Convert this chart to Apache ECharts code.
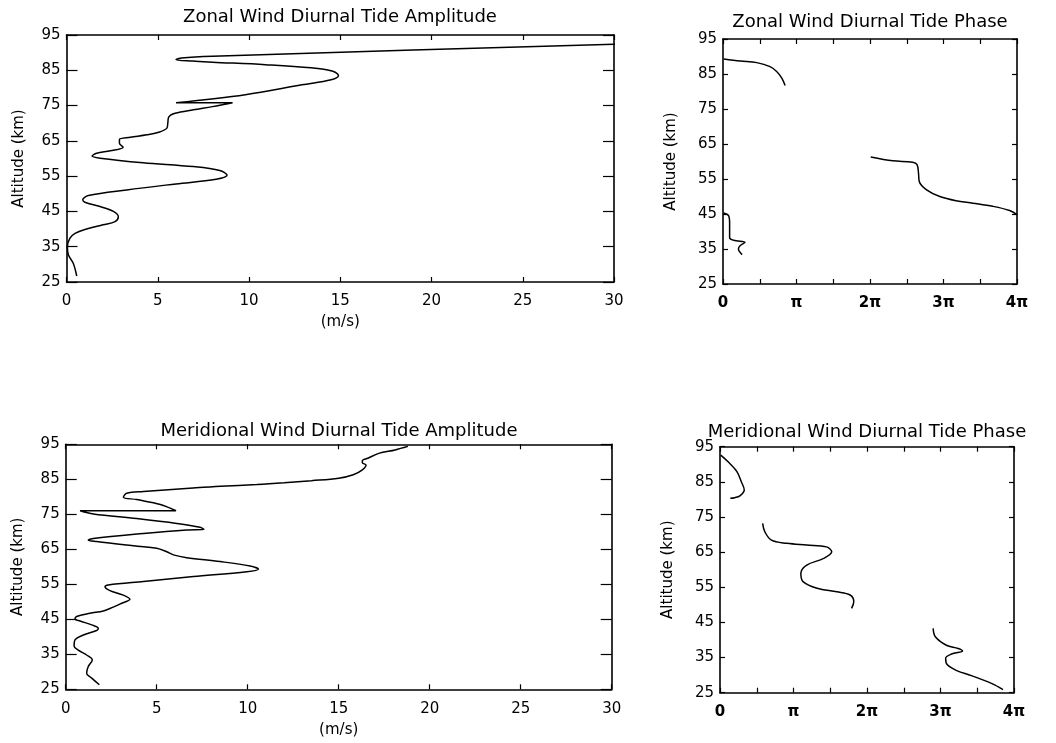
<!DOCTYPE html>
<html><head><meta charset="utf-8">
<script src="https://cdn.jsdelivr.net/npm/echarts@6/dist/echarts.min.js"></script>
<style>html,body{margin:0;padding:0;background:#fff}#c{width:1056px;height:743px}</style>
</head><body><div id="c"></div>
<script>
// ---- Data ----
var altTicks = [25, 35, 45, 55, 65, 75, 85, 95];
var ampTicks = [0, 5, 10, 15, 20, 25, 30];
var phaseTicks = [0, 0.5, 1, 1.5, 2, 2.5, 3, 3.5, 4];   // units of pi
var phaseLabels = [0, 1, 2, 3, 4];                        // units of pi

// Zonal wind diurnal tide amplitude (m/s) vs altitude (km)
var zonalAmpAlt = [26.7, 30.3, 32.7, 35.0, 37.4, 38.8, 40.0, 41.2, 42.1, 43.5, 45.0, 46.4, 47.6, 48.3, 49.5, 51.1, 52.8, 54.1, 55.3, 56.6, 57.7, 58.8, 60.1, 60.7, 61.5, 62.2, 63.2, 64.3, 65.4, 66.0, 66.7, 67.5, 68.6, 70.0, 71.7, 72.8, 73.8, 74.7, 75.8, 75.8, 78.1, 80.9, 82.3, 83.5, 84.7, 85.7, 86.6, 87.3, 87.6, 88.0, 88.5, 89.0, 92.4, 93.0];
var zonalAmpVal = [0.56, 0.37, 0.10, 0.05, 0.19, 0.47, 1.1, 2.0, 2.66, 2.84, 2.57, 1.84, 1.01, 0.89, 1.2, 3.3, 6.0, 8.2, 8.8, 8.4, 6.95, 4.2, 1.84, 1.4, 1.65, 2.4, 3.1, 2.9, 2.9, 3.5, 4.4, 5.1, 5.5, 5.55, 5.6, 5.95, 6.95, 8.0, 9.1, 6.0, 9.8, 12.9, 14.5, 14.9, 14.6, 13.4, 10.9, 8.0, 6.9, 6.0, 6.3, 8.0, 30, 34];

// Zonal wind diurnal tide phase (units of pi), three segments
var zonalPhaseAltA = [89.3, 88.7, 88.25, 87.1, 85.7, 83.8, 81.7];
var zonalPhaseValA = [0.01, 0.235, 0.46, 0.64, 0.73, 0.80, 0.845];
var zonalPhaseAltB = [61.3, 60.2, 59.8, 59.1, 56.7, 54.3, 51.9, 50.0, 48.8, 48.1, 47.2, 46.0, 44.8];
var zonalPhaseValB = [2.01, 2.31, 2.58, 2.64, 2.66, 2.67, 2.77, 2.95, 3.17, 3.40, 3.67, 3.90, 4.0];
var zonalPhaseAltC = [45.3, 44.5, 42.4, 38.2, 37.5, 36.9, 36.0, 35.0, 33.4];
var zonalPhaseValC = [0.01, 0.077, 0.09, 0.09, 0.145, 0.30, 0.235, 0.21, 0.26];

// Meridional wind diurnal tide amplitude (m/s)
var meridAmpAlt = [26.3, 28.2, 29.6, 31.5, 33.4, 34.8, 36.2, 37.4, 39.1, 40.5, 41.8, 42.4, 43.4, 44.5, 45.1, 45.8, 46.7, 47.4, 48.1, 49.6, 50.7, 51.9, 53.2, 54.3, 54.8, 55.8, 57.2, 58.6, 59.3, 60.2, 61.5, 62.6, 63.4, 64.3, 65.3, 66.2, 67.2, 67.6, 68.1, 69.5, 70.5, 70.7, 71.3, 72.4, 73.8, 75.1, 76.0, 76.0, 77.8, 79.2, 79.9, 81.0, 81.5, 82.5, 83.0, 83.5, 84.0, 84.6, 85.3, 86.3, 87.7, 89.1, 89.7, 90.3, 91.0, 92.4, 93.4, 94.4];
var meridAmpVal = [1.85, 1.43, 1.15, 1.24, 1.46, 1.15, 0.69, 0.46, 0.51, 0.97, 1.70, 1.79, 1.43, 0.79, 0.51, 0.60, 1.33, 2.07, 2.43, 3.08, 3.53, 3.17, 2.43, 2.16, 2.34, 4.27, 7.02, 9.95, 10.59, 10.13, 8.48, 6.65, 5.92, 5.55, 5.0, 3.35, 1.70, 1.24, 1.52, 4.27, 6.65, 7.6, 7.38, 6.1, 3.9, 1.52, 0.79, 6.06, 5.2, 3.9, 3.17, 3.35, 4.27, 7.0, 8.5, 10.5, 12.0, 13.5, 15.0, 15.8, 16.3, 16.5, 16.3, 16.3, 16.6, 17.2, 18.1, 18.8];

// Meridional wind diurnal tide phase (units of pi), three segments
var meridPhaseAltA = [92.6, 90.7, 87.9, 85.0, 82.7, 81.0, 80.5, 80.3];
var meridPhaseValA = [0.01, 0.11, 0.23, 0.29, 0.33, 0.27, 0.20, 0.14];
var meridPhaseAltB = [73.2, 70.8, 68.4, 67.5, 67.0, 66.5, 65.1, 63.2, 61.3, 58.9, 56.6, 54.7, 53.7, 52.8, 50.9, 49.0];
var meridPhaseValB = [0.58, 0.61, 0.70, 0.91, 1.18, 1.45, 1.52, 1.41, 1.18, 1.10, 1.13, 1.32, 1.59, 1.77, 1.82, 1.79];
var meridPhaseAltC = [43.3, 40.9, 38.5, 37.6, 36.9, 36.0, 34.8, 33.0, 31.3, 29.8, 27.6, 25.9];
var meridPhaseValC = [2.90, 2.93, 3.08, 3.24, 3.30, 3.15, 3.07, 3.09, 3.22, 3.43, 3.70, 3.85];

var titles = ['Zonal Wind Diurnal Tide Amplitude', 'Zonal Wind Diurnal Tide Phase',
              'Meridional Wind Diurnal Tide Amplitude', 'Meridional Wind Diurnal Tide Phase'];

// ---- Build chart ----
function pairs(xs, ys) { return xs.map(function (x, i) { return [x, ys[i]]; }); }
var FONT = 'DejaVu Sans';
var grids = [
  {left: 66.5, top: 35, width: 547.5, height: 247},
  {left: 723, top: 39, width: 294, height: 245},
  {left: 65.7, top: 444.3, width: 546, height: 245},
  {left: 720, top: 446.7, width: 294, height: 246}
];
var isPhase = [false, true, false, true];
var axisLine = {show: true, onZero: false, lineStyle: {color: '#000', width: 1.6}};
var xAxes = [], yAxes = [];
for (var pass = 0; pass < 2; pass++) {
  for (var g = 0; g < 4; g++) {
    var ph = isPhase[g];
    var xa = {
      type: 'value', gridIndex: g, position: pass === 0 ? 'bottom' : 'top',
      min: 0, max: ph ? 4 : 30, interval: ph ? 0.5 : 5,
      axisLine: axisLine, splitLine: {show: false},
      axisTick: {show: true, inside: true, length: 5, lineStyle: {color: '#000', width: 1.2},
                 customValues: ph ? phaseTicks : ampTicks},
      axisLabel: {show: pass === 0, color: '#000', fontSize: 15, fontFamily: FONT, margin: 12,
                  fontWeight: ph ? 'bold' : 'normal',
                  customValues: ph ? phaseLabels : ampTicks,
                  formatter: ph ? function (v) { v = Math.round(v); return v === 0 ? '0' : (v === 1 ? 'π' : v + 'π'); } : null}
    };
    if (pass === 0 && !ph) {
      xa.name = '(m/s)'; xa.nameLocation = 'middle'; xa.nameGap = 33;
      xa.nameTextStyle = {color: '#000', fontSize: 15, fontFamily: FONT};
    }
    xAxes.push(xa);
    var ya = {
      type: 'value', gridIndex: g, position: pass === 0 ? 'left' : 'right',
      min: 25, max: 95, interval: 10,
      axisLine: axisLine, splitLine: {show: false},
      axisTick: {show: true, inside: true, length: ph ? 5 : 11, lineStyle: {color: '#000', width: 1.2},
                 customValues: altTicks},
      axisLabel: {show: pass === 0, color: '#000', fontSize: 15, fontFamily: FONT, margin: 6,
                  customValues: altTicks}
    };
    if (pass === 0) {
      ya.name = 'Altitude (km)'; ya.nameLocation = 'middle'; ya.nameGap = ph ? 44 : 40;
      ya.nameTextStyle = {color: '#000', fontSize: 15, fontFamily: FONT};
    }
    yAxes.push(ya);
  }
}
function line(g, data) {
  return {type: 'line', xAxisIndex: g, yAxisIndex: g, data: data, showSymbol: false,
          smooth: 0.35, clip: true, lineStyle: {color: '#000', width: 1.5}, silent: true};
}
var series = [
  line(0, pairs(zonalAmpVal, zonalAmpAlt)),
  line(1, pairs(zonalPhaseValA, zonalPhaseAltA)),
  line(1, pairs(zonalPhaseValB, zonalPhaseAltB)),
  line(1, pairs(zonalPhaseValC, zonalPhaseAltC)),
  line(2, pairs(meridAmpVal, meridAmpAlt)),
  line(3, pairs(meridPhaseValA, meridPhaseAltA)),
  line(3, pairs(meridPhaseValB, meridPhaseAltB)),
  line(3, pairs(meridPhaseValC, meridPhaseAltC))
];
var titlePos = [[340, 17], [870, 22], [339, 431], [867, 432]];
var graphic = titles.map(function (t, i) {
  return {type: 'text', x: titlePos[i][0], y: titlePos[i][1], silent: true,
          style: {text: t, align: 'center', verticalAlign: 'middle', fontSize: 18,
                  fontFamily: FONT, fill: '#000'}};
});
var chart = echarts.init(document.getElementById('c'), null, {renderer: 'canvas'});
chart.setOption({
  animation: false, backgroundColor: '#fff',
  grid: grids, xAxis: xAxes, yAxis: yAxes, series: series, graphic: graphic
});
</script></body></html>
